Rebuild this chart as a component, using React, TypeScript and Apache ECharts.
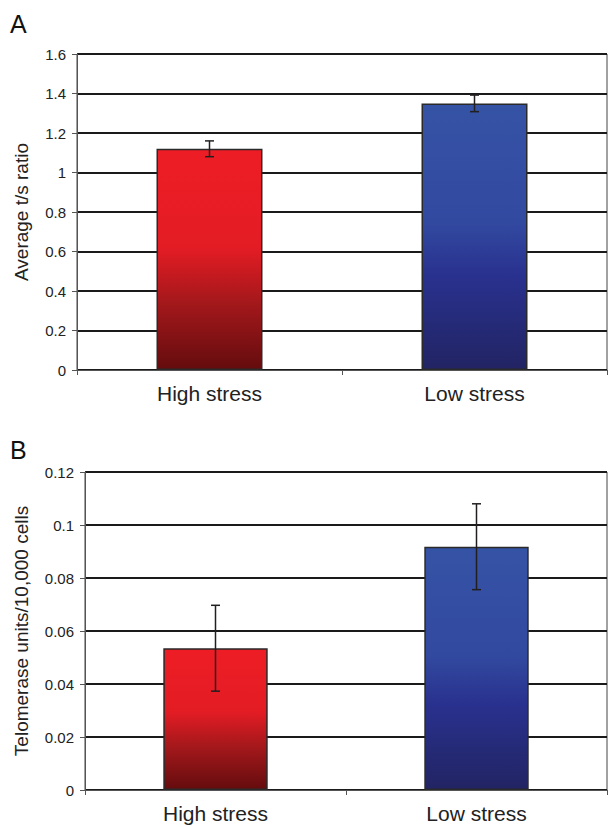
import React, { useEffect, useRef } from "react";
import * as echarts from "echarts";

const categories = ["High stress", "Low stress"];
const ratioValues = [1.12, 1.35];
const ratioErrors = [0.04, 0.042];
const telomeraseValues = [0.0535, 0.0918];
const telomeraseErrors = [0.0162, 0.0162];
const ratioTicks = { min: 0, max: 1.6, interval: 0.2 };
const telomeraseTicks = { min: 0, max: 0.12, interval: 0.02 };

const redGrad = () =>
  new echarts.graphic.LinearGradient(0, 0, 0, 1, [
    { offset: 0, color: "#ee1d25" },
    { offset: 0.45, color: "#e31c24" },
    { offset: 0.7, color: "#a3181b" },
    { offset: 1, color: "#650c0e" },
  ]);
const blueGrad = () =>
  new echarts.graphic.LinearGradient(0, 0, 0, 1, [
    { offset: 0, color: "#3553a5" },
    { offset: 0.45, color: "#3249a0" },
    { offset: 0.65, color: "#29318e" },
    { offset: 1, color: "#222463" },
  ]);

function errorSeries(xAxisIndex: number, yAxisIndex: number, vals: number[], errs: number[]) {
  return {
    type: "custom",
    xAxisIndex,
    yAxisIndex,
    z: 10,
    data: vals.map((v, i) => [i, v - errs[i], v + errs[i]]),
    renderItem: (params: any, api: any) => {
      const x = api.value(0);
      const lo = api.coord([x, api.value(1)]);
      const hi = api.coord([x, api.value(2)]);
      const hw = 4.5;
      const style = { stroke: "#231f20", lineWidth: 1.5 };
      return {
        type: "group",
        children: [
          { type: "line", shape: { x1: hi[0], y1: hi[1], x2: lo[0], y2: lo[1] }, style },
          { type: "line", shape: { x1: hi[0] - hw, y1: hi[1], x2: hi[0] + hw, y2: hi[1] }, style },
          { type: "line", shape: { x1: lo[0] - hw, y1: lo[1], x2: lo[0] + hw, y2: lo[1] }, style },
        ],
      };
    },
  };
}

export default function App() {
  const ref = useRef<HTMLDivElement>(null);
  useEffect(() => {
    if (!ref.current) return;
    const chart = echarts.init(ref.current, null, { renderer: "svg" });
    const font = "Arial, 'Liberation Sans', sans-serif";
    const xAxisCommon = {
      type: "category",
      data: categories,
      axisLine: { lineStyle: { color: "#555", width: 1 } },
      axisTick: { show: true, length: 5, lineStyle: { color: "#555" } },
      axisLabel: { fontSize: 21, color: "#222", fontFamily: font, margin: 13 },
    };
    const yAxisCommon = {
      type: "value",
      nameLocation: "middle",
      nameTextStyle: { fontSize: 19, color: "#222", fontFamily: font },
      axisLine: { show: true, lineStyle: { color: "#555", width: 1 } },
      axisTick: { show: true, length: 5, lineStyle: { color: "#555" } },
      axisLabel: { fontSize: 15, color: "#222", fontFamily: font, margin: 11 },
      splitLine: { show: true, lineStyle: { color: "#1a1a1a", width: 2 } },
    };
    chart.setOption({
      animation: false,
      backgroundColor: "#ffffff",
      graphic: [
        { type: "text", left: 10, top: 11, style: { text: "A", fontSize: 25, fill: "#111", fontFamily: font } },
        { type: "text", left: 10, top: 437, style: { text: "B", fontSize: 25, fill: "#111", fontFamily: font } },
      ],
      grid: [
        { left: 77, right: 1, top: 54, bottom: 457, show: true, borderColor: "#444", borderWidth: 1, backgroundColor: "transparent" },
        { left: 85, right: 1, top: 472, bottom: 37, show: true, borderColor: "#444", borderWidth: 1, backgroundColor: "transparent" },
      ],
      xAxis: [
        { ...xAxisCommon, gridIndex: 0 },
        { ...xAxisCommon, gridIndex: 1 },
      ],
      yAxis: [
        {
          ...yAxisCommon,
          gridIndex: 0,
          name: "Average t/s ratio",
          nameGap: 46,
          min: ratioTicks.min,
          max: ratioTicks.max,
          interval: ratioTicks.interval,
          axisLabel: { ...yAxisCommon.axisLabel, formatter: (v: number) => String(Math.round(v * 10) / 10) },
        },
        {
          ...yAxisCommon,
          gridIndex: 1,
          name: "Telomerase units/10,000 cells",
          nameGap: 54,
          min: telomeraseTicks.min,
          max: telomeraseTicks.max,
          interval: telomeraseTicks.interval,
          axisLabel: { ...yAxisCommon.axisLabel, formatter: (v: number) => String(Math.round(v * 100) / 100) },
        },
      ],
      series: [
        {
          type: "bar",
          xAxisIndex: 0,
          yAxisIndex: 0,
          barWidth: "40%",
          data: ratioValues.map((v, i) => ({
            value: v,
            itemStyle: { color: i === 0 ? redGrad() : blueGrad(), borderColor: "#2a2a2a", borderWidth: 1.5 },
          })),
        },
        errorSeries(0, 0, ratioValues, ratioErrors),
        {
          type: "bar",
          xAxisIndex: 1,
          yAxisIndex: 1,
          barWidth: "40%",
          data: telomeraseValues.map((v, i) => ({
            value: v,
            itemStyle: { color: i === 0 ? redGrad() : blueGrad(), borderColor: "#2a2a2a", borderWidth: 1.5 },
          })),
        },
        errorSeries(1, 1, telomeraseValues, telomeraseErrors),
      ],
    });
    return () => chart.dispose();
  }, []);
  return (
    <div
      ref={ref}
      style={{ position: "fixed", left: 0, top: 0, width: 608, height: 827, background: "#fff" }}
    />
  );
}
